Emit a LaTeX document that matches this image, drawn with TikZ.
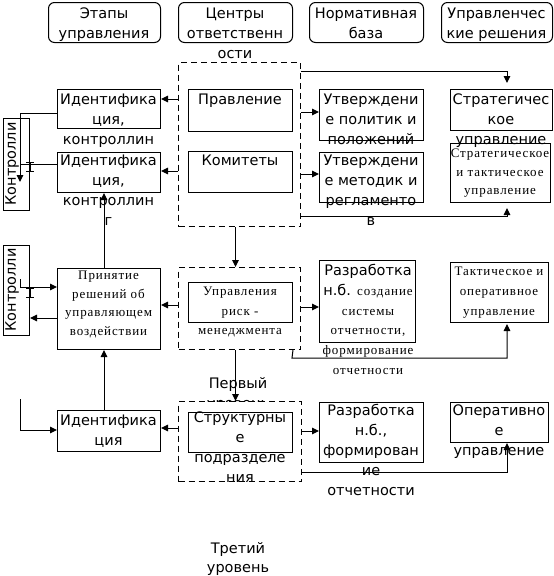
\documentclass[tikz,border=0pt]{standalone}
\usepackage{fontspec}
\newfontfamily\dv{DejaVu Sans}
\newfontfamily\ls[LetterSpace=7]{Liberation Serif}
\usetikzlibrary{arrows.meta}
\newcommand\fstrut{\rule{0pt}{11pt}}
\newcommand\sstrut{\rule{0pt}{9pt}}
\begin{document}
\begin{tikzpicture}[x=1pt,y=-1pt,line width=1pt,
  rect/.style={draw,rectangle,inner sep=0pt,anchor=north west},
  rbox/.style={rect,rounded corners=6pt},
  grp/.style={rect,dash pattern=on 6pt off 4pt,fill=white},
  txt/.style={font=\dv\fontsize{14.5}{20}\selectfont,align=center,inner sep=0pt,anchor=north},
  stxt/.style={font=\ls\fontsize{13}{18.7}\selectfont,align=center,inner sep=0pt,anchor=north},
  rtxt/.style={font=\dv\fontsize{14.5}{20}\selectfont,inner sep=0pt,rotate=90,anchor=base},
  arr/.style={-{Triangle[length=7pt,width=6.5pt]}},
  hop/.style={line width=1pt}]
\useasboundingbox (0,0) rectangle (554,576);
% headers
\node[rbox,minimum width=112pt,minimum height=40pt] (H1) at (48,2) {};
\node[rbox,minimum width=114pt,minimum height=40pt] (H2) at (178,2) {};
\node[rbox,minimum width=114pt,minimum height=40pt] (H3) at (309,2) {};
\node[rbox,minimum width=111pt,minimum height=40pt] (H4) at (441,2) {};
\node[txt] (tH1) at (104,7) {\fstrut Этапы\\управления};
\node[txt] (tH2) at (235,7) {\fstrut Центры\\ответственн\\ости};
\node[txt] (tH3) at (366,7) {\fstrut Нормативная\\база};
\node[txt] (tH4) at (496.5,7) {\fstrut Управленчес\\кие решения};
% level 1 label under group 3
\node[txt] (tLev1) at (238,376.5) {\fstrut Первый\\уровень};
% dashed groups
\node[grp,minimum width=122pt,minimum height=164pt] (G1) at (178,62) {};
\node[grp,minimum width=122pt,minimum height=82pt] (G2) at (178,267) {};
\node[grp,minimum width=123pt,minimum height=80pt] (G3) at (178,401) {};
% left column
\node[rect,minimum width=103pt,minimum height=39pt] (Id1) at (57,89) {};
\node[rect,minimum width=103pt,minimum height=40pt] (Id2) at (57,152) {};
\node[rect,minimum width=103pt,minimum height=81pt] (Prin) at (57,268) {};
\node[rect,minimum width=103pt,minimum height=41pt] (Id3) at (57,410) {};
\node[rect,minimum width=26pt,minimum height=92pt] (C1) at (3,118) {};
\node[rect,minimum width=26pt,minimum height=90pt] (C2) at (3,245) {};
% centres
\node[rect,minimum width=104pt,minimum height=42pt] (Prav) at (188,89) {};
\node[rect,minimum width=104pt,minimum height=41pt] (Kom) at (188,151) {};
\node[rect,minimum width=104pt,minimum height=40pt] (Risk) at (188,282) {};
\node[rect,minimum width=104pt,minimum height=40pt] (Str) at (188,412) {};
% normative base
\node[rect,minimum width=104pt,minimum height=51pt] (N1) at (319,89) {};
\node[rect,minimum width=104pt,minimum height=50pt] (N2) at (319,152) {};
\node[rect,minimum width=96pt,minimum height=82pt] (N3) at (319,260) {};
\node[rect,minimum width=104pt,minimum height=60pt] (N4) at (319,402) {};
% decisions
\node[rect,minimum width=102pt,minimum height=41pt] (D1) at (450,89) {};
\node[rect,minimum width=100pt,minimum height=59pt] (D2) at (450,143) {};
\node[rect,minimum width=98pt,minimum height=60pt] (D3) at (450,262) {};
\node[rect,minimum width=98pt,minimum height=40pt] (D4) at (450,402) {};
% texts
\node[txt] (tId1) at (108.5,93) {\fstrut Идентифика\\ция,\\контроллин};
\node[txt] (tId2) at (108.5,154) {\fstrut Идентифика\\ция,\\контроллин\\г};
\node[stxt] (tPrin) at (108.5,270) {\sstrut Принятие\\решений об\\управляющем\\воздействии};
\node[txt] (tId3) at (108.5,414) {\fstrut Идентифика\\ция};
\node[rtxt] (tC1) at (16,164) {Контролли};
\node[rtxt] (tC2) at (16,290) {Контролли};
\node[txt] (tPrav) at (240,93) {\fstrut Правление};
\node[txt] (tKom) at (240,154) {\fstrut Комитеты};
\node[stxt,font=\ls\fontsize{13}{19.5}\selectfont] (tRisk) at (240,286) {\sstrut Управления\\риск -\\менеджмента};
\node[txt] (tStr) at (240,411) {\fstrut Структурны\\е\\подразделе\\ния};
\node[txt] (tN1) at (371,93) {\fstrut Утверждени\\е политик и\\положений};
\node[txt] (tN2) at (371,154) {\fstrut Утверждени\\е методик и\\регламенто\\в};
\node[txt,font=\dv\fontsize{14.5}{19.7}\selectfont] (tN3) at (368,264) {\fstrut Разработка\\н.б. {\ls\fontsize{13}{19.7}\selectfont создание}\\{\ls\fontsize{13}{19.7}\selectfont системы}\\{\ls\fontsize{13}{19.7}\selectfont отчетности,}\\{\ls\fontsize{13}{19.7}\selectfont формирование}\\{\ls\fontsize{13}{19.7}\selectfont отчетности}};
\node[txt] (tN4) at (371,404) {\fstrut Разработка\\н.б.,\\формирован\\ие\\отчетности};
\node[txt] (tD1) at (501,93) {\fstrut Стратегичес\\кое\\управление};
\node[stxt] (tD2) at (500,148) {\sstrut Стратегическое\\и тактическое\\управление};
\node[stxt,font=\ls\fontsize{13}{20}\selectfont] (tD3) at (499,266) {\sstrut Тактическое и\\оперативное\\управление};
\node[txt] (tD4) at (499,404) {\fstrut Оперативно\\е\\управление};
\node[txt,font=\dv\fontsize{14.5}{19}\selectfont] (tLev3) at (238,542) {\fstrut Третий\\уровень};
% connectors
\draw[arr] (G1.west|-0,99) -- (Id1.east|-0,99);
\draw[arr] (G1.west|-0,171) -- (Id2.east|-0,171);
\draw[arr] (G1.east|-0,112) -- (N1.west|-0,112);
\draw[arr] (G1.east|-0,174) -- (N2.west|-0,174);
\draw[arr,shorten >=6pt] (G1.east|-0,71) -| (507,0|-D1.north);
\draw[arr,shorten >=5pt] (G1.east|-0,216) -| (507,0|-D2.south);
\draw[arr] (G1.south-|H2) -- (G2.north-|H2);
\draw[arr] (G2.west|-0,305) -- (Prin.east|-0,305);
\draw[arr] (G2.east|-0,307) -- (N3.west|-0,307);
\draw[arr,shorten >=1pt] (Risk.east|-G2.south) -- (292,358) -| (507,0|-D3.south);
\draw[arr] (G2.south-|H2) -- (G3.north-|H2);
\draw[arr] (G3.west|-0,428) -- (Id3.east|-0,428);
\draw[arr] (G3.east|-0,431) -- (N4.west|-0,431);
\draw[arr] (G3.east|-0,472) -| (507,0|-D4.south);
\draw[arr] (Prin.north-|104,0) -- (Id2.south-|104,0);
\draw[arr] (Id3.north-|104,0) -- (Prin.south-|104,0);
\coordinate (c1e) at (20,182);
\coordinate (c2s) at (20,279);
\coordinate (c3s) at (20,399);
\draw[arr] (Id1.west|-0,113) -| (c1e);
\draw (Id2.west|-0,164) -- (c1e|-0,164);
\draw[arr] (c2s) |- (Prin.west|-0,287);
\draw[arr] (Prin.west|-0,318) -- (C2.east|-0,318);
\draw[arr] (c3s) |- (Id3.west|-0,430);
% line hops
\draw[hop] (26,162)--(34,162) (30,162)--(30,171) (26,171)--(34,171);
\draw[hop] (26,288)--(34,288) (30,288)--(30,297) (26,297)--(34,297);
\end{tikzpicture}
\end{document}
